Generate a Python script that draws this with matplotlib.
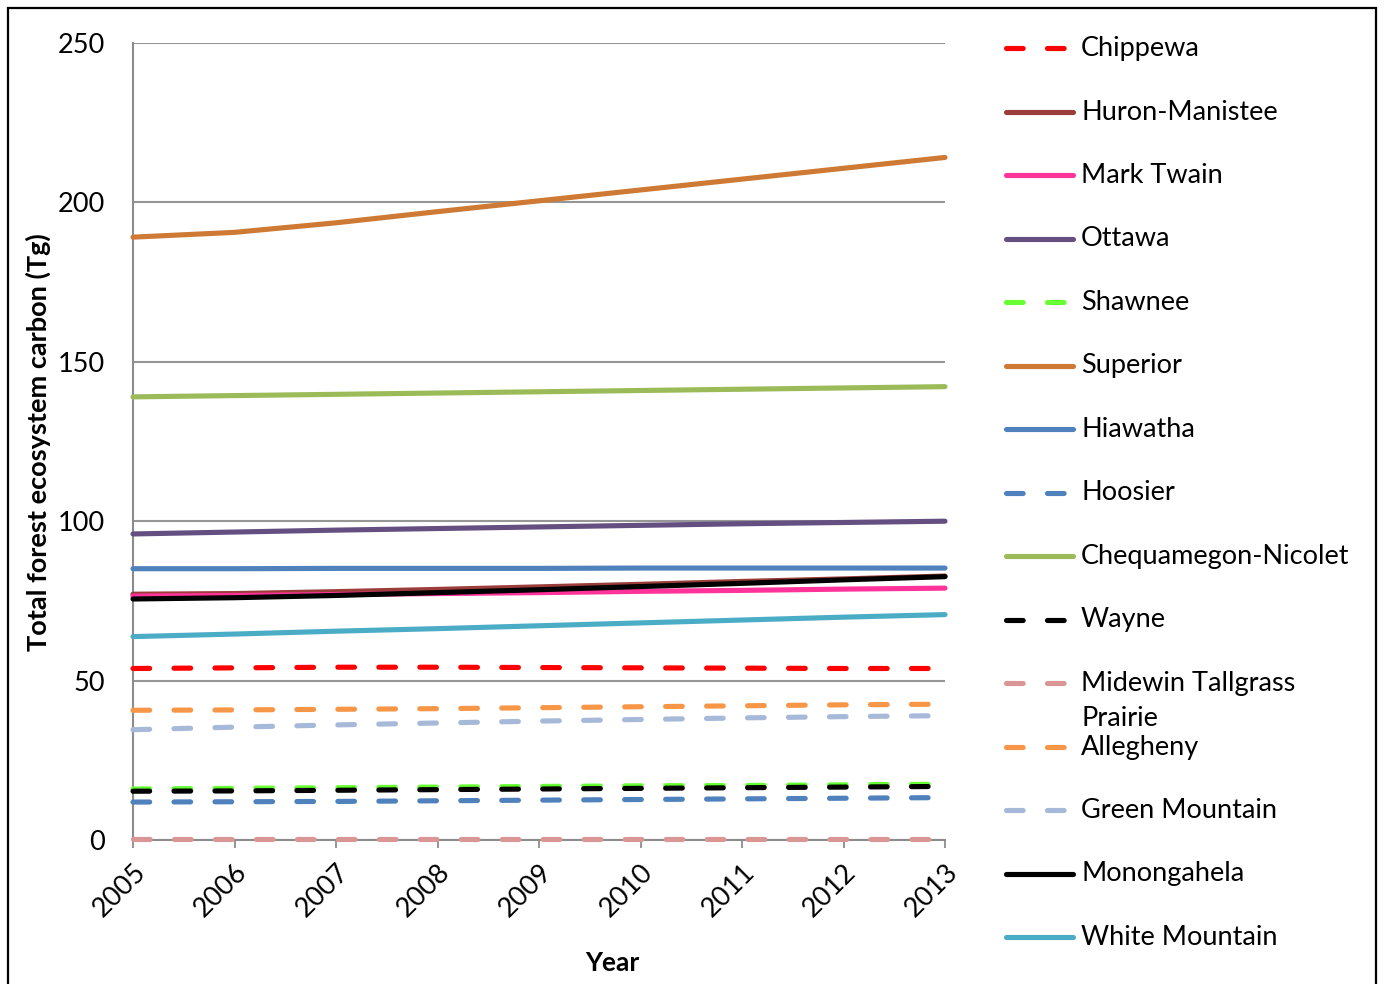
import matplotlib
matplotlib.use("Agg")
import matplotlib.pyplot as plt
from matplotlib.lines import Line2D
from matplotlib.patches import Rectangle

plt.rcParams["font.family"] = ["Lato", "DejaVu Sans"]
plt.rcParams["lines.scale_dashes"] = False

years = [2005, 2006, 2007, 2008, 2009, 2010, 2011, 2012, 2013]

chippewa = [53.8, 54.0, 54.2, 54.2, 54.1, 54.0, 53.9, 53.8, 53.8]
huron_manistee = [77.1, 77.3, 77.9, 78.6, 79.4, 80.2, 81.1, 81.9, 82.8]
mark_twain = [76.5, 76.7, 77.0, 77.3, 77.6, 78.0, 78.3, 78.7, 79.0]
ottawa = [96.0, 96.6, 97.2, 97.7, 98.2, 98.7, 99.2, 99.6, 100.0]
shawnee = [16.0, 16.2, 16.4, 16.6, 16.8, 17.0, 17.1, 17.3, 17.5]
superior = [189.1, 190.6, 193.6, 197.1, 200.5, 203.9, 207.3, 210.7, 214.1]
hiawatha = [85.1, 85.1, 85.2, 85.2, 85.2, 85.3, 85.3, 85.3, 85.3]
hoosier = [11.9, 12.0, 12.1, 12.3, 12.5, 12.7, 12.9, 13.1, 13.3]
chequamegon = [139.0, 139.4, 139.8, 140.2, 140.6, 141.0, 141.4, 141.8, 142.2]
wayne = [15.3, 15.4, 15.6, 15.8, 16.0, 16.2, 16.4, 16.6, 16.8]
midewin = [0.3, 0.3, 0.3, 0.3, 0.3, 0.3, 0.3, 0.3, 0.3]
allegheny = [40.7, 40.8, 41.0, 41.2, 41.5, 41.8, 42.1, 42.4, 42.6]
green_mountain = [34.6, 35.4, 36.1, 36.7, 37.3, 37.8, 38.3, 38.7, 39.0]
monongahela = [75.6, 76.0, 76.7, 77.6, 78.5, 79.5, 80.5, 81.6, 82.6]
white_mountain = [63.8, 64.6, 65.5, 66.3, 67.2, 68.1, 69.0, 69.9, 70.7]

labels = ["Chippewa", "Huron-Manistee", "Mark Twain", "Ottawa", "Shawnee",
          "Superior", "Hiawatha", "Hoosier", "Chequamegon-Nicolet", "Wayne",
          "Midewin Tallgrass\nPrairie", "Allegheny", "Green Mountain",
          "Monongahela", "White Mountain"]
series = [chippewa, huron_manistee, mark_twain, ottawa, shawnee, superior,
          hiawatha, hoosier, chequamegon, wayne, midewin, allegheny,
          green_mountain, monongahela, white_mountain]
colors = ["#FF0000", "#9B3D3A", "#FF3399", "#654F80", "#66FF33", "#CE7A35",
          "#4F81BD", "#4F81BD", "#9BBB59", "#000000", "#D99694", "#F79646",
          "#A6B9D8", "#000000", "#4BACC6"]
dashed = [True, False, False, False, True, False, False, True, False, True,
          True, True, True, False, False]

W, H = 1384, 984
fig = plt.figure(figsize=(W / 100, H / 100), dpi=100)
ax = fig.add_axes([133 / W, 1 - 840 / H, (945 - 133) / W, (840 - 43) / H])

lw = 3.7
dash = (12, 17.5)
for vals, lab, col, dsh in zip(series, labels, colors, dashed):
    ls = (0, dash) if dsh else "-"
    ax.plot(years, vals, color=col, lw=lw, ls=ls, dash_capstyle="round",
            solid_capstyle="round", label=lab, zorder=3, clip_on=False)

ax.set_xlim(2005, 2013)
ax.set_ylim(0, 250)
ax.set_yticks([0, 50, 100, 150, 200, 250])
ax.set_xticks(years)
ax.set_xticklabels([str(y) for y in years], rotation=45, ha="right",
                   rotation_mode="anchor", fontsize=19.5)
ax.tick_params(axis="x", length=6, width=1.3, color="#8C8C8C", pad=8)
ax.tick_params(axis="y", length=0, pad=20, labelsize=19.5)
ax.yaxis.grid(True, color="#969696", lw=1.5, zorder=1)
for s in ["top", "right"]:
    ax.spines[s].set_visible(False)
for s in ["left", "bottom"]:
    ax.spines[s].set_color("#8C8C8C")
    ax.spines[s].set_linewidth(1.5)
    ax.spines[s].set_zorder(2)

fig.text(38 / W, 1 - 442 / H, "Total forest ecosystem carbon (Tg)", rotation=90,
         ha="center", va="center", fontsize=19.5, fontweight="bold")
fig.text(612 / W, 1 - 963 / H, "Year", ha="center", va="center",
         fontsize=19, fontweight="bold")

# legend drawn by hand so the wrapped label does not push the spacing
for i, (lab, col, dsh) in enumerate(zip(labels, colors, dashed)):
    yc = 1 - (48 + i * 63.5) / H
    if dsh:
        fig.add_artist(Line2D([1006 / W, 1066 / W], [yc, yc], color=col, lw=lw,
                              ls=(0, dash), dash_capstyle="round"))
    else:
        fig.add_artist(Line2D([1006 / W, 1073 / W], [yc, yc], color=col, lw=lw,
                              solid_capstyle="round"))
    fig.text(1081 / W, yc + 12 / H, lab, ha="left", va="top", fontsize=19.5,
             linespacing=1.5)

fig.add_artist(Rectangle((8 / W, -0.05), (1376 - 8) / W, 1.05 - 8 / H,
                         transform=fig.transFigure, fill=False, ec="black", lw=1.6))

fig.savefig("out.png", dpi=100)
